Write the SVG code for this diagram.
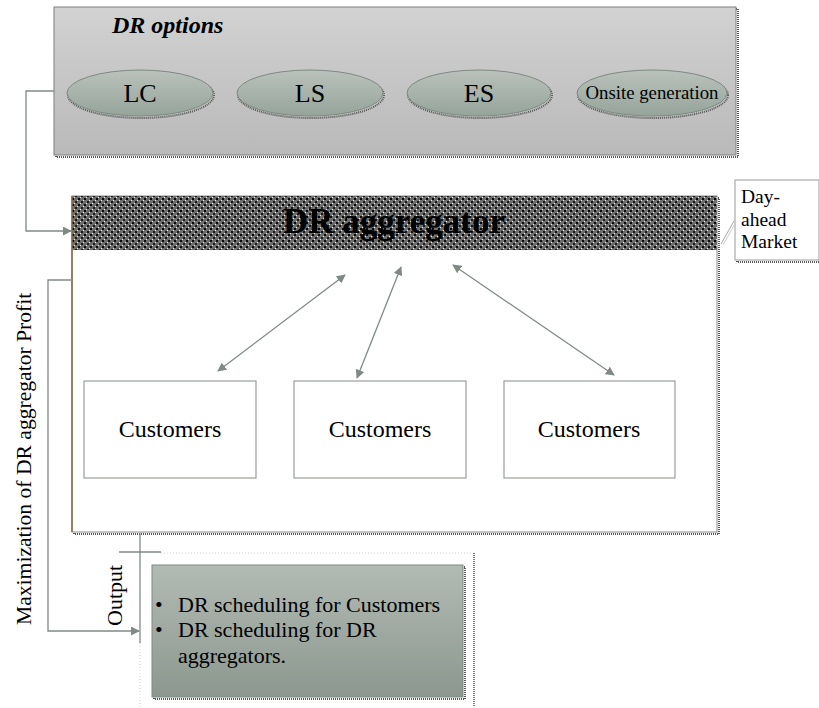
<svg xmlns="http://www.w3.org/2000/svg" width="819" height="708" viewBox="0 0 819 708" font-family="'Liberation Serif', 'Times New Roman', serif">
<style>
text{font-family:"Liberation Serif","Times New Roman",serif;fill:#000}
.conn{stroke:#7f8a85;stroke-width:1.3;fill:none}
.shadow{stroke:#555;stroke-width:2;stroke-dasharray:1 1;fill:none}
.ell{fill:url(#gEll);stroke:#7d8a82;stroke-width:1}
</style>
<defs>
<linearGradient id="gOpt" x1="0" y1="0" x2="0" y2="1">
<stop offset="0" stop-color="#d2d2d2"/><stop offset="1" stop-color="#b9b9b9"/>
</linearGradient>
<linearGradient id="gEll" x1="0" y1="0" x2="0" y2="1">
<stop offset="0" stop-color="#b9c2bc"/><stop offset="1" stop-color="#96a49a"/>
</linearGradient>
<linearGradient id="gOut" x1="0" y1="0" x2="0" y2="1">
<stop offset="0" stop-color="#b2bab4"/><stop offset="1" stop-color="#8c988f"/>
</linearGradient>
<pattern id="hatch" x="0" y="0" width="6" height="6" patternUnits="userSpaceOnUse">
<rect width="6" height="6" fill="#6e6e6e"/>
<rect x="0" y="0" width="2" height="2" fill="#0a0a0a"/>
<rect x="3" y="3" width="2" height="2" fill="#1a1a1a"/>
<rect x="2" y="5" width="1" height="1" fill="#f0f0f0"/>
<rect x="5" y="2" width="1" height="1" fill="#f0f0f0"/>
</pattern>
<marker id="arr" viewBox="0 0 10 10" refX="9" refY="5" markerWidth="9" markerHeight="9" markerUnits="userSpaceOnUse" orient="auto-start-reverse">
<path d="M0,0 L10,5 L0,10 z" fill="#7f8a85"/>
</marker>
</defs>

<g id="dr-options">
<rect x="56" y="9" width="682" height="148" class="shadow"/>
<rect x="54" y="7" width="682" height="148" fill="url(#gOpt)" stroke="#7f7f7f" stroke-width="1"/>
<text x="112" y="33" font-size="24" font-weight="bold" font-style="italic">DR options</text>
</g>

<g id="lc">
<ellipse cx="141" cy="95" rx="73" ry="23" class="shadow" stroke-width="1.5"/>
<ellipse cx="140" cy="93" rx="73" ry="23" class="ell"/>
<text x="140" y="102" font-size="26" text-anchor="middle">LC</text>
</g>
<g id="ls">
<ellipse cx="311" cy="95" rx="73" ry="23" class="shadow" stroke-width="1.5"/>
<ellipse cx="310" cy="93" rx="73" ry="23" class="ell"/>
<text x="310" y="102" font-size="26" text-anchor="middle">LS</text>
</g>
<g id="es">
<ellipse cx="480" cy="95" rx="72" ry="23" class="shadow" stroke-width="1.5"/>
<ellipse cx="479" cy="93" rx="72" ry="23" class="ell"/>
<text x="479" y="102" font-size="26" text-anchor="middle">ES</text>
</g>
<g id="onsite">
<ellipse cx="653" cy="95" rx="75" ry="23" class="shadow" stroke-width="1.5"/>
<ellipse cx="652" cy="93" rx="75" ry="23" class="ell"/>
<text x="652" y="99" font-size="18.8" text-anchor="middle">Onsite generation</text>
</g>

<g id="dr-aggregator">
<rect x="74" y="198" width="645" height="336" class="shadow"/>
<rect x="72" y="196" width="645" height="336" fill="#fff" stroke="#8a8a8a" stroke-width="1"/>
<rect x="72" y="196" width="645" height="54" fill="url(#hatch)"/>
<line x1="72" y1="196" x2="72" y2="532" stroke="#8c6a3c" stroke-width="1.5"/>
<text x="394" y="233" font-size="35" font-weight="bold" text-anchor="middle">DR aggregator</text>
</g>

<g id="day-ahead">
<rect x="737" y="182" width="84" height="80" class="shadow" stroke="#aaa"/>
<rect x="735" y="180" width="84" height="80" fill="#fff" stroke="#9a9a9a" stroke-width="1"/>
<text font-size="19.5"><tspan x="741" y="203">Day-</tspan><tspan x="741" y="226">ahead</tspan><tspan x="741" y="248">Market</tspan></text>
</g>

<g id="customers-1">
<rect x="84" y="381" width="172" height="97" fill="#fff" stroke="#9aa09c" stroke-width="1.2"/>
<text x="170" y="437" font-size="24" text-anchor="middle">Customers</text>
</g>
<g id="customers-2">
<rect x="294" y="381" width="172" height="97" fill="#fff" stroke="#9aa09c" stroke-width="1.2"/>
<text x="380" y="437" font-size="24" text-anchor="middle">Customers</text>
</g>
<g id="customers-3">
<rect x="504" y="381" width="171" height="97" fill="#fff" stroke="#9aa09c" stroke-width="1.2"/>
<text x="589" y="437" font-size="24" text-anchor="middle">Customers</text>
</g>

<g id="output">
<line x1="161" y1="553" x2="474" y2="553" stroke="#d0d0d0" stroke-width="1" stroke-dasharray="1 2"/>
<line x1="474" y1="553" x2="474" y2="707" stroke="#555" stroke-width="1.5" stroke-dasharray="1 1"/>
<line x1="140" y1="643" x2="140" y2="708" stroke="#d0d0d0" stroke-width="1" stroke-dasharray="1 2"/>
<rect x="154" y="567" width="311" height="132" class="shadow"/>
<rect x="152" y="565" width="311" height="132" fill="url(#gOut)" stroke="#7f8a85" stroke-width="1"/>
<text font-size="22">
<tspan x="155" y="612">•</tspan><tspan x="178" y="612">DR scheduling for Customers</tspan>
<tspan x="155" y="637">•</tspan><tspan x="178" y="637">DR scheduling for DR</tspan>
<tspan x="178" y="663">aggregators.</tspan>
</text>
<text transform="translate(122,626) rotate(-90)" font-size="22">Output</text>
</g>

<g id="label-max">
<text transform="translate(31,625) rotate(-90)" font-size="21.6">Maximization of DR aggregator Profit</text>
</g>

<g id="connectors">
<polyline class="conn" points="54,91 26,91 26,231 71,231" marker-end="url(#arr)"/>
<polyline class="conn" points="72,280 48,280 48,631 139,631" marker-end="url(#arr)"/>
<line class="conn" x1="140" y1="533" x2="140" y2="643"/>
<line class="conn" x1="119" y1="552" x2="161" y2="552"/>
<line class="conn" x1="218" y1="371" x2="345" y2="275" marker-start="url(#arr)" marker-end="url(#arr)"/>
<line class="conn" x1="357" y1="378" x2="401" y2="267" marker-start="url(#arr)" marker-end="url(#arr)"/>
<line class="conn" x1="453" y1="265" x2="614" y2="375" marker-start="url(#arr)" marker-end="url(#arr)"/>
<line x1="734" y1="221" x2="721" y2="244" stroke="#aaa" stroke-width="1"/>
<line x1="736" y1="222" x2="723" y2="245" stroke="#ccc" stroke-width="1"/>
</g>
</svg>
